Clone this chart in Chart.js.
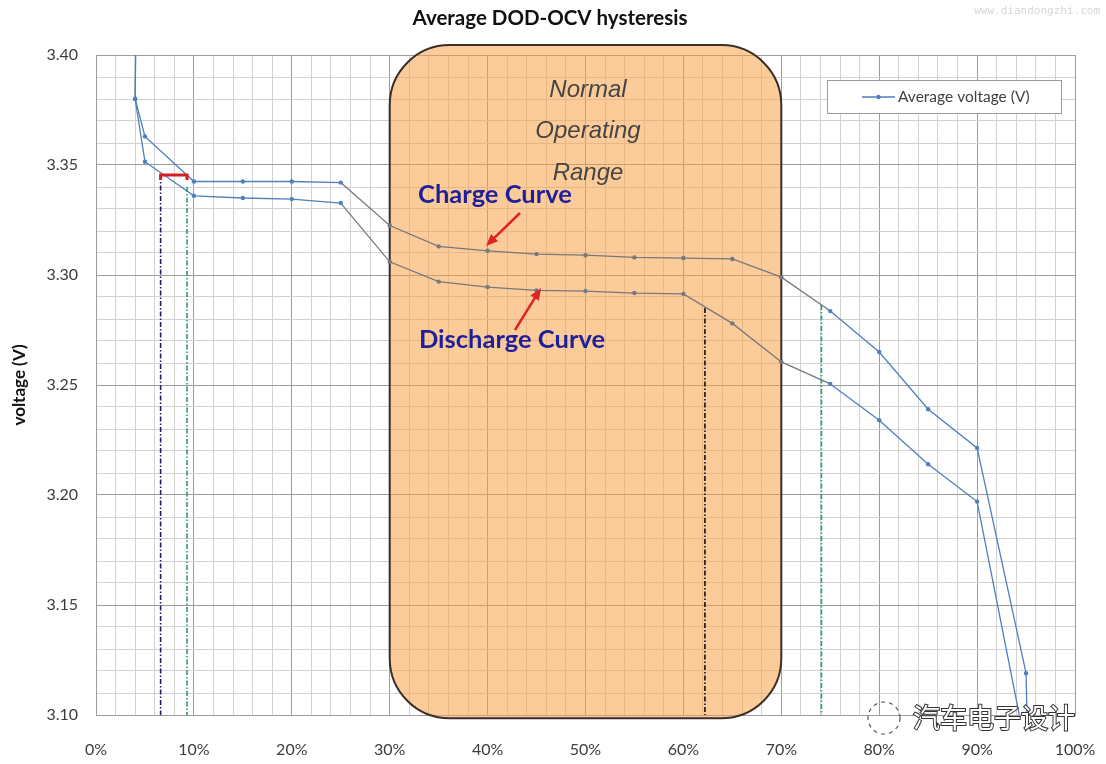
<!DOCTYPE html>
<html><head><meta charset="utf-8">
<script src="https://cdn.jsdelivr.net/npm/chart.js@4.4.1/dist/chart.umd.min.js"></script>
<style>html,body{margin:0;padding:0;background:#fff;}#c{display:block;}</style>
</head><body>
<canvas id="c" width="1106" height="764"></canvas>
<script>
// ---- data (DOD %, voltage V) ----
const chargeDOD  = [4.1, 4, 5, 10, 15, 20, 25, 30, 35, 40, 45, 50, 55, 60, 65, 70, 75, 80, 85, 90, 95, 95.2];
const chargeV    = [3.43, 3.380, 3.363, 3.3425, 3.3425, 3.3425, 3.342, 3.3225, 3.313, 3.311, 3.3095, 3.309, 3.308, 3.3077, 3.3073, 3.299, 3.2836, 3.265, 3.239, 3.2214, 3.119, 3.08];
const dischargeDOD = [4.1, 4, 5, 10, 15, 20, 25, 30, 35, 40, 45, 50, 55, 60, 65, 70, 75, 80, 85, 90, 95.2];
const dischargeV   = [3.43, 3.380, 3.3515, 3.336, 3.335, 3.3345, 3.3327, 3.306, 3.297, 3.2945, 3.293, 3.2927, 3.2918, 3.2914, 3.278, 3.2605, 3.2505, 3.234, 3.214, 3.197, 3.08];
const xTicksMajor = [0,10,20,30,40,50,60,70,80,90,100];
const yTicksMajor = ['3.10','3.15','3.20','3.25','3.30','3.35','3.40'];
// guide marks (DOD %, top voltage)
const guideX   = [6.6, 9.3, 62.2, 74.1];
const guideTop = [3.3455, 3.340, 3.285, 3.2864];
const guideCol = ['#1c1c70', '#2f9a70', '#111111', '#20a088'];
const bracket  = [6.6, 9.3, 3.3455];
const rangeBox = [30, 70, 3.4045, 3.0985];

const toPts = (xs, ys) => xs.map((x, i) => ({x, y: ys[i]}));
const BLUE = '#4f7fbd', GREY = '#747880';
const segCol = ctx => (ctx.p0.parsed.x >= 25 && ctx.p1.parsed.x <= 75) ? GREY : BLUE;
const ptCol = ctx => (ctx.raw && ctx.raw.x >= 28 && ctx.raw.x <= 72) ? GREY : BLUE;

const overlay = {
  id: 'overlay',
  beforeDatasetsDraw(chart) {
    const {ctx, scales: {x, y}} = chart;
    const l = x.getPixelForValue(rangeBox[0]), r = x.getPixelForValue(rangeBox[1]);
    const t = y.getPixelForValue(rangeBox[2]), b = y.getPixelForValue(rangeBox[3]);
    ctx.save();
    ctx.beginPath();
    ctx.roundRect(l, t, r - l, b - t, 60);
    ctx.fillStyle = 'rgba(247,163,70,0.55)';
    ctx.fill();
    ctx.lineWidth = 2;
    ctx.strokeStyle = '#3a2e28';
    ctx.stroke();
    ctx.restore();
  },
  afterDatasetsDraw(chart) {
    const {ctx, scales: {x, y}} = chart;
    ctx.save();
    // dashed guides
    ctx.lineWidth = 1.6;
    ctx.setLineDash([5, 2, 1.5, 2]);
    guideX.forEach((gx, i) => {
      const px = x.getPixelForValue(gx);
      ctx.strokeStyle = guideCol[i];
      ctx.beginPath();
      ctx.moveTo(px, y.getPixelForValue(guideTop[i]));
      ctx.lineTo(px, y.getPixelForValue(3.10));
      ctx.stroke();
    });
    ctx.setLineDash([]);
    // red bracket
    const b0 = x.getPixelForValue(bracket[0]), b1 = x.getPixelForValue(bracket[1]), by = y.getPixelForValue(bracket[2]);
    ctx.strokeStyle = '#d42020'; ctx.lineWidth = 3;
    ctx.beginPath();
    ctx.moveTo(b0, by + 5); ctx.lineTo(b0, by); ctx.lineTo(b1, by); ctx.lineTo(b1, by + 5);
    ctx.stroke();
    // arrows
    const arrow = (x0, y0, x1, y1) => {
      ctx.strokeStyle = '#e02424'; ctx.fillStyle = '#e02424'; ctx.lineWidth = 2.5;
      const a = Math.atan2(y1 - y0, x1 - x0);
      ctx.beginPath(); ctx.moveTo(x0, y0); ctx.lineTo(x1 - 8 * Math.cos(a), y1 - 8 * Math.sin(a)); ctx.stroke();
      ctx.beginPath();
      ctx.moveTo(x1, y1);
      ctx.lineTo(x1 - 12 * Math.cos(a) + 5 * Math.sin(a), y1 - 12 * Math.sin(a) - 5 * Math.cos(a));
      ctx.lineTo(x1 - 12 * Math.cos(a) - 5 * Math.sin(a), y1 - 12 * Math.sin(a) + 5 * Math.cos(a));
      ctx.closePath(); ctx.fill();
    };
    arrow(520, 213, 486, 246);
    arrow(515, 330, 541, 288);
    // texts
    ctx.textAlign = 'center'; ctx.textBaseline = 'middle';
    ctx.fillStyle = '#454545';
    ctx.font = 'italic 24px "Liberation Sans", Arial, sans-serif';
    ctx.fillText('Normal', 588, 90);
    ctx.fillText('Operating', 588, 131);
    ctx.fillText('Range', 588, 173);
    ctx.fillStyle = '#1f1f9c';
    ctx.font = 'bold 25.5px Lato, "Open Sans", sans-serif';
    ctx.fillText('Charge Curve', 495, 195);
    ctx.fillText('Discharge Curve', 512, 340);
    // legend
    ctx.fillStyle = '#ffffff';
    ctx.fillRect(827, 80, 234, 33);
    ctx.strokeStyle = '#9a9a9a'; ctx.lineWidth = 1;
    ctx.strokeRect(827.5, 80.5, 234, 33);
    ctx.strokeStyle = BLUE; ctx.lineWidth = 1.5;
    ctx.beginPath(); ctx.moveTo(862, 97); ctx.lineTo(895, 97); ctx.stroke();
    ctx.fillStyle = BLUE; ctx.beginPath(); ctx.arc(878.5, 97, 2.2, 0, Math.PI * 2); ctx.fill();
    ctx.fillStyle = '#404040'; ctx.textAlign = 'left';
    ctx.font = '15.5px Lato, sans-serif';
    ctx.fillText('Average voltage (V)', 898, 97);
    ctx.restore();
  },
  afterDraw(chart) {
    const ctx = chart.ctx;
    ctx.save();
    ctx.textAlign = 'center'; ctx.textBaseline = 'middle';
    ctx.fillStyle = '#111';
    ctx.font = 'bold 20.5px Lato, sans-serif';
    ctx.fillText('Average DOD-OCV hysteresis', 550, 18);
    ctx.fillStyle = '#d6d6d6';
    ctx.font = '11px "DejaVu Sans Mono", monospace';
    ctx.textAlign = 'right';
    ctx.fillText('www.diandongzhi.com', 1100, 11);
    // wechat-style watermark
    ctx.strokeStyle = '#555'; ctx.lineWidth = 1.2; ctx.setLineDash([4, 4]);
    ctx.beginPath(); ctx.arc(884, 718, 16, 0, Math.PI * 2); ctx.stroke();
    ctx.setLineDash([]);
    ctx.textAlign = 'left';
    ctx.font = '27px "Noto Sans CJK SC", sans-serif';
    ctx.lineWidth = 2; ctx.strokeStyle = '#333';
    ctx.strokeText('汽车电子设计', 913, 718);
    ctx.fillStyle = '#fff';
    ctx.fillText('汽车电子设计', 913, 718);
    ctx.restore();
  }
};

new Chart(document.getElementById('c'), {
  type: 'line',
  data: {
    datasets: [
      {label: 'Charge', data: toPts(chargeDOD, chargeV), borderWidth: 1.3, borderColor: BLUE,
       segment: {borderColor: segCol}, pointRadius: 2.2, pointBackgroundColor: ptCol, pointBorderColor: ptCol, pointBorderWidth: 0, tension: 0},
      {label: 'Discharge', data: toPts(dischargeDOD, dischargeV), borderWidth: 1.3, borderColor: BLUE,
       segment: {borderColor: segCol}, pointRadius: 2.2, pointBackgroundColor: ptCol, pointBorderColor: ptCol, pointBorderWidth: 0, tension: 0}
    ]
  },
  options: {
    responsive: false, animation: false, devicePixelRatio: 1,
    layout: {padding: {left: 0, right: 31, top: 55, bottom: 0}},
    plugins: {legend: {display: false}, title: {display: false}, tooltip: {enabled: false}},
    scales: {
      x: {
        type: 'linear', min: 0, max: 100,
        afterFit: s => { s.height = 49; s.paddingLeft = 0; s.paddingRight = 0; },
        ticks: {stepSize: 2, autoSkip: false, maxRotation: 0, padding: 25, color: '#3c3c3c',
                font: {family: 'Lato, sans-serif', size: 16},
                callback: v => xTicksMajor.includes(Math.round(v)) ? Math.round(v) + '%' : ''},
        grid: {drawTicks: false, color: c => (Math.round(c.tick.value) % 10 === 0) ? '#9c9c9c' : '#d2d2d2', lineWidth: 1},
        border: {display: true, color: '#9c9c9c'}
      },
      y: {
        min: 3.10, max: 3.40,
        afterFit: s => { s.width = 96; s.paddingTop = 0; s.paddingBottom = 0; },
        ticks: {stepSize: 0.01, autoSkip: false, padding: 18, color: '#3c3c3c',
                font: {family: 'Lato, sans-serif', size: 16},
                callback: v => { const s = (Math.round(v * 100) / 100).toFixed(2); return yTicksMajor.includes(s) ? s : ''; }},
        grid: {drawTicks: false, color: c => (Math.round(c.tick.value * 100) % 5 === 0) ? '#9c9c9c' : '#d2d2d2', lineWidth: 1},
        border: {display: true, color: '#9c9c9c'},
        title: {display: true, text: 'voltage (V)', color: '#111', font: {family: 'Lato, sans-serif', size: 17, weight: 'bold'}, padding: {top: 9, bottom: 0}}
      }
    }
  },
  plugins: [overlay]
});
</script>
</body></html>
